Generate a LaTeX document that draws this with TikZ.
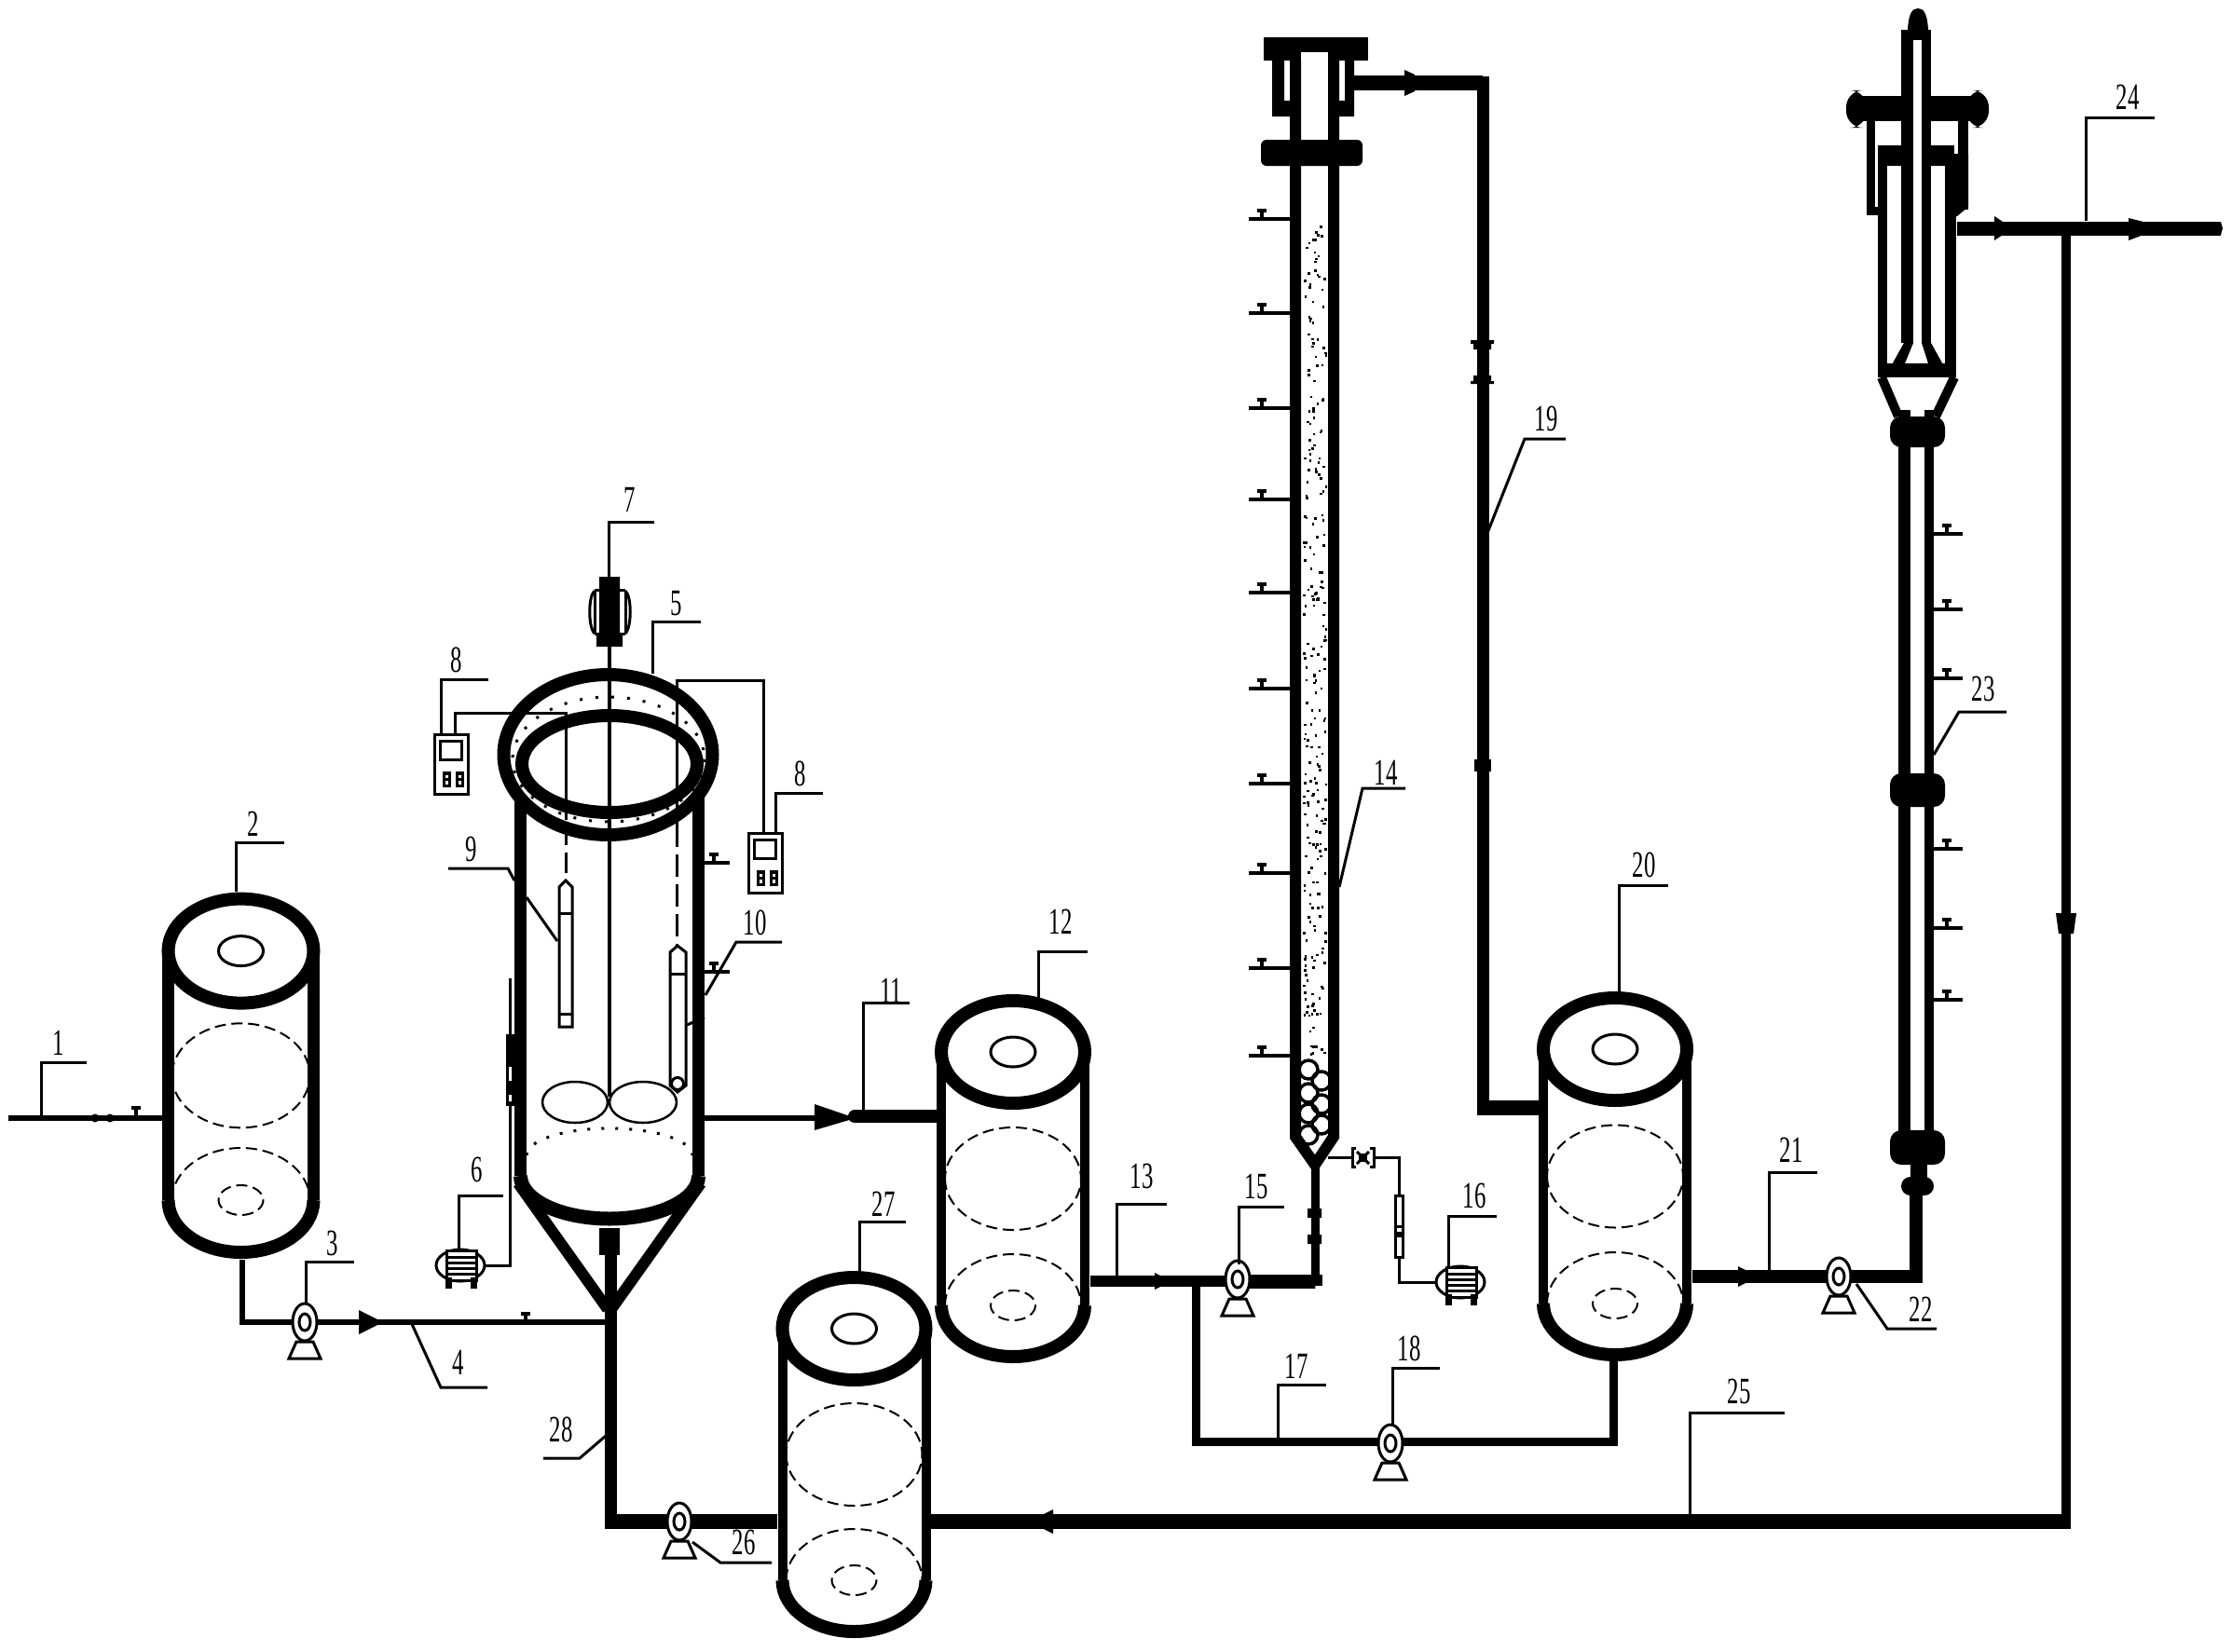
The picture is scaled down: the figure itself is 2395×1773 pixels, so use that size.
\documentclass[tikz,border=0pt]{standalone}
\usepackage{fontspec}
\newfontfamily\numf[FakeStretch=0.62]{Liberation Serif}
\newcommand{\tankv}[7]{% cx yt yb ry wall ell rx
 \fill[white] (#1-#7,#2) rectangle (#1+#7,#3);
 \fill[white] (#1,#2) ellipse [x radius=#7,y radius=#4];
 \fill[white] (#1,#3) ellipse [x radius=#7,y radius=#4];
 \draw[line width=#5 pt] (#1-#7,#2) -- (#1-#7,#3) (#1+#7,#2) -- (#1+#7,#3);
 \draw[line width=#6 pt] (#1,#2) ellipse [x radius=#7,y radius=#4];
 \draw[line width=#6 pt] (#1-#7,#3) arc [start angle=180,end angle=0,x radius=#7,y radius=#4];
 \pgfmathsetmacro\ymid{(#2+#3)/2}
 \draw[dashline] (#1-#7+4,\ymid) arc [start angle=180,end angle=-180,x radius=#7-4,y radius=#4];
 \draw[dashline] (#1-#7+4,#3) arc [start angle=180,end angle=360,x radius=#7-4,y radius=#4];
 \draw[thinline] (#1,#2) ellipse [x radius=24,y radius=16];
 \draw[dashline] (#1,#3) ellipse [x radius=24,y radius=16];
}
\newcommand{\pumpv}[2]{% x y
 \draw[thinline,fill=white] (#1-17,#2+39) -- (#1-9,#2+21) -- (#1+9,#2+21) -- (#1+17,#2+39) -- cycle;
 \draw[thinline,fill=white] (#1,#2) ellipse [x radius=13,y radius=20];
 \draw[thinline,fill=white] (#1,#2) ellipse [x radius=6,y radius=9];
}
\newcommand{\motorv}[2]{% x y
 \draw[thinline,fill=white] (#1,#2) ellipse [x radius=26,y radius=17];
 \draw[thinline,fill=white] (#1-15,#2-16) rectangle (#1+17,#2+16);
 \foreach \k in {-9,-3,3,9} {\draw[thinline] (#1-15,#2+\k) -- (#1+17,#2+\k);}
 \fill (#1-16,#2+13) rectangle (#1-9,#2+25);
 \fill (#1+11,#2+13) rectangle (#1+18,#2+25);
}
\newcommand{\tickL}[2]{% on left, end at x
 \draw[tickline] (#1,#2) -- (#1-44,#2);
 \draw[tickline] (#1-30,#2) -- (#1-30,#2-9) (#1-35,#2-9) -- (#1-25,#2-9);
}
\newcommand{\tickR}[3]{% x y len
 \draw[tickline] (#1,#2) -- (#1+#3,#2);
 \draw[tickline] (#1+#3-17,#2) -- (#1+#3-17,#2-9) (#1+#3-22,#2-9) -- (#1+#3-12,#2-9);
}
\newcommand{\instv}[2]{% left top
 \draw[thinline,fill=white] (#1,#2) rectangle (#1+36,#2+64);
 \draw[thinline] (#1+6,#2+7) rectangle (#1+29,#2+27);
 \fill (#1+9,#2+40) rectangle (#1+18,#2+57);
 \fill (#1+23,#2+40) rectangle (#1+32,#2+57);
 \fill[white] (#1+12,#2+44) rectangle (#1+15,#2+47);
 \fill[white] (#1+26,#2+44) rectangle (#1+29,#2+47);
 \fill[white] (#1+12,#2+50) rectangle (#1+15,#2+54);
 \fill[white] (#1+26,#2+50) rectangle (#1+29,#2+54);
}
\newcommand{\mkr}[3]{\fill (#1-#3,#2-#3) -- (#1+#3,#2) -- (#1-#3,#2+#3) -- cycle;}
\newcommand{\mkl}[3]{\fill (#1+#3,#2-#3) -- (#1-#3,#2) -- (#1+#3,#2+#3) -- cycle;}
\newcommand{\mkd}[3]{\fill (#1-#3,#2-#3) -- (#1+#3,#2-#3) -- (#1+#3-3,#2+#3) -- (#1-#3+3,#2+#3) -- cycle;}
\begin{document}
\begin{tikzpicture}[x=0.5pt,y=-0.5pt,line join=miter,
 thinline/.style={line width=1.5pt},
 dashline/.style={line width=1pt,dash pattern=on 6pt off 3pt},
 tickline/.style={line width=1.75pt},
 leader/.style={line width=1.5pt},
 pipe/.style={line width=#1 pt},
 lbl/.style={font=\numf\fontsize{20}{20}\selectfont,inner sep=0pt,anchor=center},
 flange/.style={fill,rounded corners=3pt}]
\useasboundingbox (0,0) rectangle (2395,1773);
\fill[white] (0,0) rectangle (2395,1773);

% named junctions
\coordinate (t2b) at (260,1352);
\coordinate (p3) at (327,1419);
\coordinate (rj) at (655,1419);
\coordinate (p15) at (1328,1375);
\coordinate (cTip) at (1411,1248);
\coordinate (p18) at (1492,1547);
\coordinate (p22) at (1973,1370);
\coordinate (p26) at (729,1633);
\coordinate (j23) at (2056,1283);
\coordinate (out) at (2383,245);
\coordinate (j25) at (2217,245);
\coordinate (br) at (1283,1375);
\coordinate (t20b) at (1731,1458);
\coordinate (c19) at (1591,89);

% feed lines
\draw[pipe=3] (9,1200) -- (174,1200);
\fill (102,1200) circle (4.5) (118,1200) circle (4.5);
\draw[tickline] (146,1200) -- (146,1189) (141,1189) -- (151,1189);
\draw[pipe=2.75] (t2b) |- (p3) -- (rj);
\mkr{398}{1419}{13}
\draw[tickline] (564,1419) -- (564,1410) (559,1410) -- (569,1410);
\draw[pipe=6.5] (rj) -- (655,1347);
\draw[pipe=6.5] (rj) -- (655,1640);
\draw[pipe=8] (649,1633) -- (834,1633);
\draw[pipe=8] (999,1633) -- (2222,1633);
\draw[pipe=5] (j25) -- (2217,1637);
\mkd{2217}{991}{11}
\mkl{1117}{1633}{13}

% pipe from reactor to tank 12
\draw[pipe=3] (756,1200) -- (900,1200);
\fill (874,1185) -- (918,1200) -- (874,1213) -- cycle;
\draw[pipe=7] (918,1198) -- (1015,1198);
\fill (917,1198) circle (7);

% tank 12 -> column
\draw[pipe=6] (1170,1375) -- (p15);
\draw[pipe=7.5] (p15) -| (1411,1380);
\draw[pipe=4.5] (1411,1380) -- (cTip);
\fill (1403,1297) rectangle (1418,1307) (1403,1325) rectangle (1418,1335);
\mkr{1248}{1375}{9}
\draw[pipe=4.5] (br) |- (p18) -| (t20b);
% column top pipe 19
\draw[pipe=8] (1450,89) -- (c19);
\draw[pipe=6.5] (1591,82) -- (1591,1188);
\draw[pipe=8] (1585,1189) -- (1665,1189);
\fill (1507,75) -- (1518,80) -- (1518,98) -- (1507,103) -- cycle;
\fill (1578,365) rectangle (1603,369) (1581,369) rectangle (1600,375);
\fill (1581,403) rectangle (1600,409) (1578,409) rectangle (1603,412);
\fill (1582,815) rectangle (1600,828);
% tank 20 -> 23
\draw[pipe=7] (1816,1370) -- (p22) -| (j23);
\mkr{1876}{1370}{11}
% outlet
\draw[pipe=7.5] (2100,245) -- (out);
\fill (2140,232) -- (2152,240) -- (2152,250) -- (2140,258) -- cycle;
\fill (2284,234) -- (2300,238) -- (2300,252) -- (2284,258) -- cycle;
\fill (2383,238) -- (2385,245) -- (2383,252) -- cycle;

% tanks
\tankv{258.5}{1020.6}{1288}{56}{6.5}{7}{78}
\tankv{1087}{1129}{1401}{55}{5}{7}{77}
\tankv{1733}{1126}{1399}{55}{5}{7}{77}
\tankv{916.5}{1426}{1696}{55}{5}{7}{77}

% reactor body
\fill[white] (558,880) rectangle (750,1270);
\draw[line width=6.5pt] (558.5,830) -- (558.5,1262) (749.5,830) -- (749.5,1262);
\draw[line width=7.5pt] (558.5,1262) arc [start angle=180,end angle=0,x radius=95.5,y radius=46];
\draw[line width=6pt] (556,1270) -- (652,1405) (752,1270) -- (656,1405);
\fill (643,1318) rectangle (665,1347);
\draw[line width=1.5pt,dash pattern=on 1.5pt off 6pt] (565,1240) arc [start angle=180,end angle=360,x radius=89,y radius=29];
% air line and motor 6
\draw[thinline] (547,1050) -- (547,1358) -- (520,1358);
\fill (543,1110) rectangle (552,1187);
\fill[white] (546,1145) rectangle (549,1160) (546,1175) rectangle (549,1182);
\motorv{494}{1358}
% rim
\fill[white] (652.5,810) ellipse [x radius=112,y radius=86];
\draw[line width=1.5pt,dash pattern=on 1.5pt off 7pt] (653,815) ellipse [x radius=103,y radius=67];
\fill[white] (654,820) ellipse [x radius=94,y radius=52];
% shaft, probes
\draw[line width=2pt] (654,694) -- (654,1177);
\draw[thinline] (488,788) -- (488,765) -- (607,765) -- (607,880);
\draw[line width=1.5pt,dash pattern=on 11pt off 4pt] (607,885) -- (607,945);
\draw[thinline] (819,893) -- (819,730) -- (726,730) -- (726,885);
\draw[line width=1.5pt,dash pattern=on 12pt off 4pt] (726,885) -- (726,1015);
\draw[line width=7pt] (654,820) ellipse [x radius=94,y radius=52];
\draw[line width=7pt] (652.5,810) ellipse [x radius=112,y radius=86];
% probes
\draw[thinline,fill=white] (600,952) -- (607,945) -- (614,952) -- (614,1102) -- (600,1102) -- cycle;
\draw[thinline] (600,980) -- (614,980) (600,1088) -- (614,1088);
\draw[thinline,fill=white] (719,1022) -- (727,1015) -- (736,1022) -- (736,1165) -- (727,1172) -- (719,1165) -- cycle;
\draw[thinline] (719,1045) -- (736,1045);
\draw[thinline] (727,1163) circle (6.5);
% impellers
\draw[line width=1.25pt] (617,1183) ellipse [x radius=35,y radius=22];
\draw[line width=1.25pt] (690,1183) ellipse [x radius=36,y radius=22];
% motor 7
\fill (643,619) rectangle (665,633) (640,680) rectangle (668,694) (643,633) rectangle (665,680);
\draw[thinline] (638,633) -- (643,633) (665,633) -- (671,633) (638,680) -- (643,680) (665,680) -- (671,680);
\draw[thinline] (638,634) .. controls (631,640) and (631,673) .. (638,680);
\draw[thinline] (671,634) .. controls (678,640) and (678,673) .. (671,680);
\draw[thinline] (638,634) -- (638,680) (671,634) -- (671,680);
% instruments
\instv{466}{788}
\instv{803}{894}
\tickR{756}{926}{27}
\tickR{756}{1043}{27}

% column 14
\fill[white] (1390,178) rectangle (1431,1220);
\draw[line width=6pt] (1390,56) -- (1390,1220) -- (1411,1250) -- (1431,1220) -- (1431,56);
\fill (1356,40) rectangle (1468,65);
\fill[white] (1396,56) rectangle (1425,66);
\fill (1365,65) rectangle (1378,125) (1365,108) rectangle (1384,125);
\fill (1443,65) rectangle (1453,125) (1437,108) rectangle (1453,125);
\fill[flange] (1353,150) rectangle (1462,178);
\foreach \y in {235,336,438,536,636,739,841,937,1039,1133} {\tickL{1384}{\y}}
\pgfmathsetseed{23}
\foreach \i in {1,...,260} {
 \pgfmathsetmacro\xa{1398+rnd*24}
 \pgfmathsetmacro\ya{240+rnd*895}
 \fill (\xa,\ya) rectangle +(2.6,2.6);
}
\foreach \y in {1148,1173,1195,1218} {\draw[line width=1.75pt] (1404,\y) circle (10);}
\foreach \y in {1160,1185,1207} {\draw[line width=1.75pt] (1418,\y) circle (10);}
\fill (1384,1220) -- (1396,1222) -- (1411,1240) -- (1425,1222) -- (1437,1220) -- (1411,1250) -- cycle;

% air branch 16
\draw[thinline] (cTip) ++(14,-6) -- (1450,1242);
\draw[thinline] (1475,1242) -- (1501,1242) -- (1501,1283);
\draw[thinline] (1501,1349) -- (1501,1376) -- (1541,1376);
\draw[thinline] (1456,1236) -- (1469,1249) (1456,1249) -- (1469,1236);
\fill (1458,1238) rectangle (1467,1247);
\draw[thinline] (1455,1232) -- (1451,1232) -- (1451,1252) -- (1455,1252) (1470,1232) -- (1474,1232) -- (1474,1252) -- (1470,1252);
\draw[thinline] (1497,1283) rectangle (1505,1349);
\fill (1497,1315) rectangle (1505,1318);
\fill (1497,1322) rectangle (1505,1328);
\motorv{1567}{1376}

% column 23
\draw[line width=6.5pt] (2043.5,440) -- (2043.5,1220);
\draw[line width=5pt] (2070,440) -- (2070,1220);
\fill[flange,rounded corners=6pt] (2028,447) rectangle (2087,480);
\fill[flange,rounded corners=6pt] (2028,830) rectangle (2087,866);
\fill[flange,rounded corners=6pt] (2028,1213) rectangle (2087,1250);
\fill (2050,1250) rectangle (2068,1265);
\fill[rounded corners=5pt] (2040,1263) rectangle (2075,1283);
\foreach \y in {573,654,728,911,996,1073} {\tickR{2075}{\y}{31}}
% top of 23
\fill (2047,32) .. controls (2048,14) and (2052,9) .. (2058,9) .. controls (2064,9) and (2068,14) .. (2069,32) -- cycle;
\fill[white] (2004,178) rectangle (2112,232);
\draw[line width=4.5pt] (2007.5,130) -- (2007.5,226) -- (2020,226);
\draw[line width=5.5pt] (2106.5,130) -- (2106.5,225);
\fill (2087,165) -- (2112,165) -- (2112,222) -- (2100,232) -- (2087,232) -- cycle;
\fill (2015,156) rectangle (2097,178);
\draw[line width=5pt] (2020,170) -- (2020,405);
\draw[line width=6pt] (2093,170) -- (2093,405);
\fill (2040,32) rectangle (2072,368);
\fill[white] (2053,43) rectangle (2062,372);
\fill (1990,103) rectangle (2125,130);
\fill[rounded corners=9pt] (1981,97) rectangle (2003,137);
\fill[rounded corners=9pt] (2110,97) rectangle (2134,137);
\fill[white] (2053,100) rectangle (2062,135);
\fill (2043,368) -- (2028,395) -- (2087,395) -- (2072,368) -- (2062,368) -- (2069,390) -- (2044,390) -- (2053,368) -- cycle;
\fill (2018,390) rectangle (2096,405);
\draw[line width=5pt] (2019,405) -- (2037,447) (2097,405) -- (2077,447);

% pumps
\pumpv{327}{1419}
\pumpv{1328}{1373}
\pumpv{1492}{1549}
\pumpv{1973}{1370}
\pumpv{729}{1633}

% leaders
\draw[leader] (44,1200) -- (44,1140) -- (93,1140);
\draw[leader] (253,957) -- (253,904) -- (305,904);
\draw[leader] (328,1400) -- (328,1354) -- (380,1354);
\draw[leader] (442,1421) -- (473,1489) -- (523,1489);
\draw[leader] (700,723) -- (700,667) -- (752,667);
\draw[leader] (492,1342) -- (492,1283) -- (540,1283);
\draw[leader] (653,619) -- (653,560) -- (702,560);
\draw[leader] (473,788) -- (473,729) -- (524,729);
\draw[leader] (832,894) -- (832,851) -- (883,851);
\draw[leader] (481,932) -- (545,932) -- (552,945) (565,963) -- (598,1010);
\draw[leader] (737,1100) -- (756,1092) (757,1068) -- (790,1011) -- (839,1011);
\draw[leader] (926,1192) -- (926,1076) -- (976,1076);
\draw[leader] (1114,1072) -- (1114,1021) -- (1167,1021);
\draw[leader] (1198,1375) -- (1198,1292) -- (1252,1292);
\draw[leader] (1437,952) -- (1462,846) -- (1508,846);
\draw[leader] (1329,1357) -- (1329,1295) -- (1378,1295);
\draw[leader] (1554,1360) -- (1554,1305) -- (1606,1305);
\draw[leader] (1371,1547) -- (1371,1486) -- (1423,1486);
\draw[leader] (1494,1530) -- (1494,1468) -- (1545,1468);
\draw[leader] (1596,572) -- (1636,471) -- (1680,471);
\draw[leader] (1737,1070) -- (1737,950) -- (1790,950);
\draw[leader] (1898,1370) -- (1898,1258) -- (1950,1258);
\draw[leader] (1992,1378) -- (2025,1426) -- (2078,1426);
\draw[leader] (2075,810) -- (2102,764) -- (2153,764);
\draw[leader] (2238,237) -- (2238,126) -- (2312,126);
\draw[leader] (1813,1633) -- (1813,1516) -- (1915,1516);
\draw[leader] (743,1655) -- (773,1677) -- (828,1677);
\draw[leader] (922,1365) -- (922,1311) -- (972,1311);
\draw[leader] (657,1535) -- (622,1565) -- (583,1565);

% labels
\node[lbl] (n1) at (63,1119) {1};
\node[lbl] (n2) at (272,884) {2};
\node[lbl] (n3) at (357,1334) {3};
\node[lbl] (n4) at (492,1462) {4};
\node[lbl] (n5) at (726,648) {5};
\node[lbl] (n6) at (512,1255) {6};
\node[lbl] (n7) at (676,536) {7};
\node[lbl] (n8a) at (490,708) {8};
\node[lbl] (n8b) at (859,830) {8};
\node[lbl] (n9) at (506,911) {9};
\node[lbl] (n10) at (810,990) {10};
\node[lbl] (n11) at (956,1063) {11};
\node[lbl] (n12) at (1138,989) {12};
\node[lbl] (n13) at (1225,1262) {13};
\node[lbl] (n14) at (1487,829) {14};
\node[lbl] (n15) at (1348,1273) {15};
\node[lbl] (n16) at (1582,1283) {16};
\node[lbl] (n17) at (1391,1466) {17};
\node[lbl] (n18) at (1512,1447) {18};
\node[lbl] (n19) at (1659,449) {19};
\node[lbl] (n20) at (1764,928) {20};
\node[lbl] (n21) at (1922,1234) {21};
\node[lbl] (n22) at (2061,1405) {22};
\node[lbl] (n23) at (2128,739) {23};
\node[lbl] (n24) at (2283,104) {24};
\node[lbl] (n25) at (1866,1493) {25};
\node[lbl] (n26) at (798,1655) {26};
\node[lbl] (n27) at (948,1292) {27};
\node[lbl] (n28) at (602,1534) {28};
\end{tikzpicture}
\end{document}
